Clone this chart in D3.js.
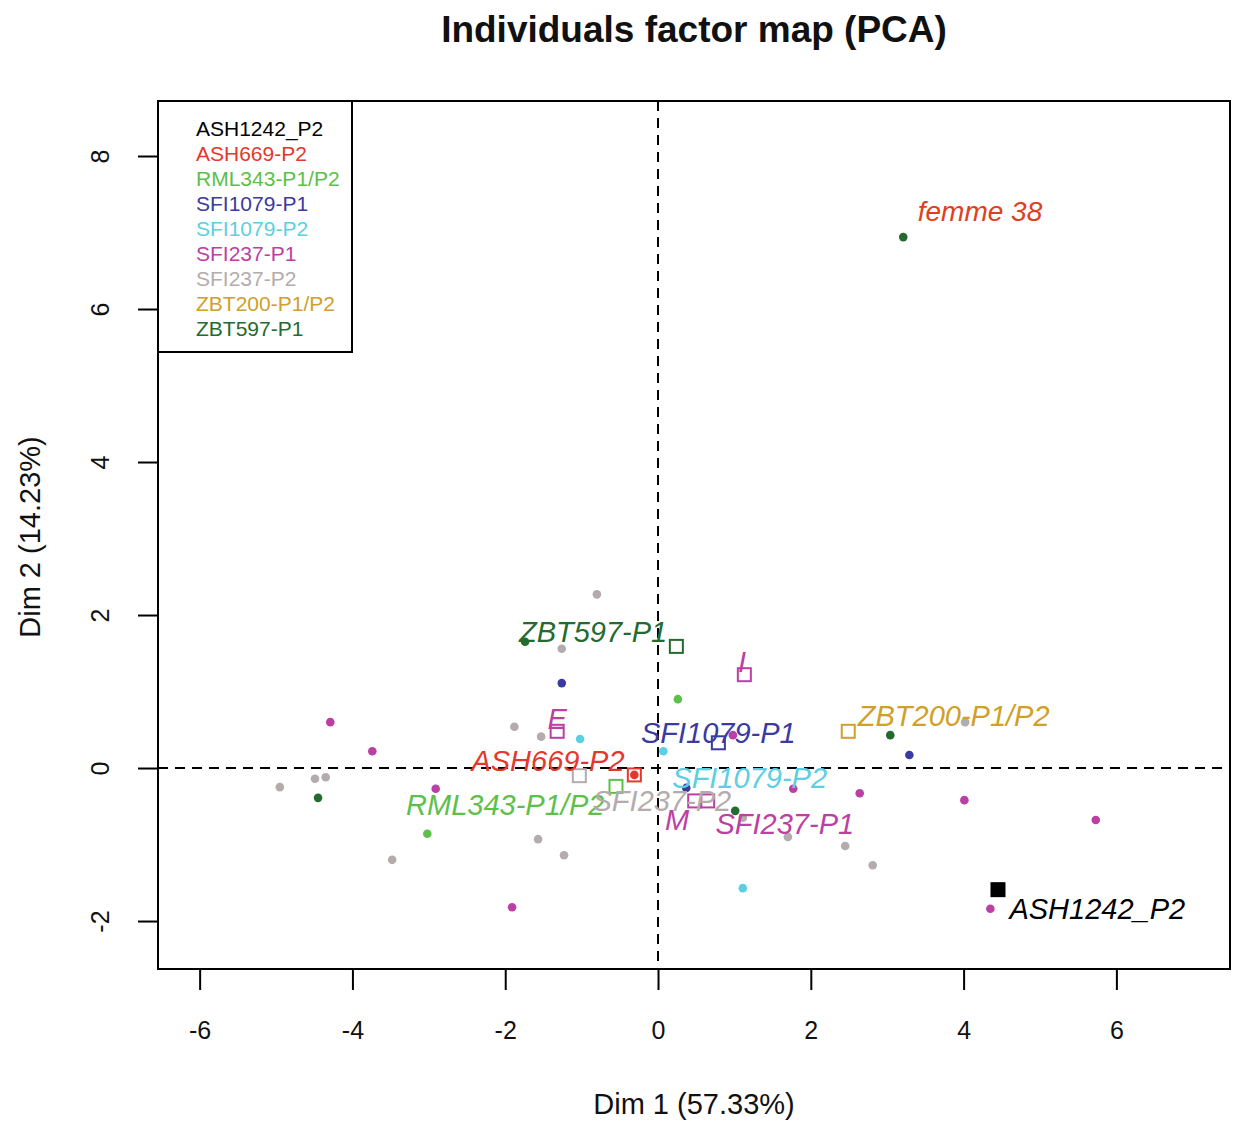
<!DOCTYPE html>
<html><head><meta charset="utf-8">
<script src="https://cdn.jsdelivr.net/npm/d3@7"></script>
<style>body{margin:0;background:#fff}svg{display:block}text{font-family:"Liberation Sans",Arial,sans-serif}</style>
</head><body>
<script>
// ---- data ----
const groups = ["ASH1242_P2","ASH669-P2","RML343-P1/P2","SFI1079-P1","SFI1079-P2","SFI237-P1","SFI237-P2","ZBT200-P1/P2","ZBT597-P1"];
const groupColors = ["#000000","#e4382c","#5cc04a","#3a3aa0","#5ccfe2","#bc40a4","#b4acac","#d0a028","#236b2f"];

// individuals (dots)
const indX = [
  -0.31,
  0.26, -3.02,
  -1.26, 0.37, 3.29,
  -1.02, 0.07, 1.11,
  -4.29, -3.74, -2.91, -1.91, 0.98, 1.77, 2.64, 4.01, 5.73, 4.35,
  -0.80, -1.26, -1.88, -1.53, -4.95, -4.49, -4.35, -3.48, -1.57, -1.23, 1.11, 1.70, 2.45, 2.81, 4.02,
  3.21, -1.74, -4.45, 3.04, 1.01
];
const indY = [
  -0.09,
  0.90, -0.86,
  1.11, -0.26, 0.17,
  0.38, 0.22, -1.57,
  0.60, 0.22, -0.27, -1.82, 0.43, -0.27, -0.33, -0.42, -0.68, -1.84,
  2.27, 1.56, 0.54, 0.41, -0.25, -0.14, -0.12, -1.20, -0.93, -1.14, -0.65, -0.90, -1.02, -1.27, 0.60,
  6.94, 1.65, -0.39, 0.43, -0.56
];
const indGroup = [
  1,
  2, 2,
  3, 3, 3,
  4, 4, 4,
  5, 5, 5, 5, 5, 5, 5, 5, 5, 5,
  6, 6, 6, 6, 6, 6, 6, 6, 6, 6, 6, 6, 6, 6, 6,
  8, 8, 8, 8, 8
];

// category squares
const sqX = [4.45, -0.31, -0.55, 0.79, -1.03, 2.49, 0.24, -1.32, 1.13, 0.48, 0.65];
const sqY = [-1.59, -0.09, -0.24, 0.33, -0.10, 0.48, 1.59, 0.48, 1.22, -0.43, -0.43];
const sqGroup = [0, 1, 2, 3, 6, 7, 8, 5, 5, 5, 5];
const sqFilled = [true, false, false, false, false, false, false, false, false, false, false];

// labels
const labText = ["ZBT597-P1","ASH669-P2","RML343-P1/P2","SFI237-P2","SFI1079-P1","SFI1079-P2","ZBT200-P1/P2","SFI237-P1","ASH1242_P2","E","I","M"];
const labX = [-0.85, -1.44, -2.00, 0.05, 0.79, 1.20, 3.87, 1.66, 5.75, -1.32, 1.10, 0.25];
const labY = [1.78, 0.10, -0.48, -0.42, 0.47, -0.13, 0.68, -0.72, -1.84, 0.65, 1.39, -0.68];
const labGroup = [8, 1, 2, 6, 3, 4, 7, 5, 0, 5, 5, 5];

const noteText = "femme 38";
const noteX = 3.40, noteY = 7.28;

const xTicks = [-6,-4,-2,0,2,4,6];
const yTicks = [-2,0,2,4,6,8];

// ---- layout ----
const W = 1234, H = 1121;
const L = 158, R = 1230, T = 101, B = 969;
const svg = d3.select("body").append("svg").attr("width", W).attr("height", H);

const x = d3.scaleLinear().domain([-6.545, 7.487]).range([L, R]);
const y = d3.scaleLinear().domain([-2.627, 8.719]).range([B, T]);
const fmt = d => String(d);

// title
svg.append("text").attr("x", 694).attr("y", 42).attr("text-anchor","middle")
  .attr("font-size", 37).attr("font-weight","bold").attr("fill","#111")
  .text("Individuals factor map (PCA)");

// axes
const xAxis = svg.append("g").attr("transform", `translate(0,${B})`)
  .call(d3.axisBottom(x).tickValues(xTicks).tickSize(21).tickPadding(31).tickFormat(fmt));
xAxis.select(".domain").remove();
xAxis.selectAll("line").attr("stroke","#000").attr("stroke-width",2);
xAxis.selectAll("text").attr("font-size",25).attr("fill","#111").attr("font-family","Liberation Sans, Arial");

const yAxis = svg.append("g").attr("transform", `translate(${L},0)`)
  .call(d3.axisLeft(y).tickValues(yTicks).tickSize(20).tickFormat(fmt));
yAxis.select(".domain").remove();
yAxis.selectAll("line").attr("stroke","#000").attr("stroke-width",2);
yAxis.selectAll("text").remove();
yAxis.selectAll(".tick").append("text")
  .attr("transform","translate(-58,0) rotate(-90)")
  .attr("text-anchor","middle").attr("dy","0.36em")
  .attr("font-size",25).attr("fill","#111")
  .text(fmt);

// axis titles
svg.append("text").attr("x", 694).attr("y", 1114).attr("text-anchor","middle")
  .attr("font-size", 29).attr("fill","#111").text("Dim 1 (57.33%)");
svg.append("text").attr("transform","translate(40,537) rotate(-90)").attr("text-anchor","middle")
  .attr("font-size", 29).attr("fill","#111").text("Dim 2 (14.23%)");

// dashed zero lines
svg.append("line").attr("x1", x(0)).attr("x2", x(0)).attr("y1", T).attr("y2", B)
  .attr("stroke","#000").attr("stroke-width",2).attr("stroke-dasharray","10,7");
svg.append("line").attr("x1", L).attr("x2", R).attr("y1", y(0)).attr("y2", y(0))
  .attr("stroke","#000").attr("stroke-width",2).attr("stroke-dasharray","10,7");

// individuals
svg.append("g").selectAll("circle").data(indX).join("circle")
  .attr("cx", (d,i) => x(d)).attr("cy", (d,i) => y(indY[i])).attr("r", 4.3)
  .attr("fill", (d,i) => groupColors[indGroup[i]]);

// squares
const s = 13;
svg.append("g").selectAll("rect").data(sqX).join("rect")
  .attr("x", (d,i) => x(d) - s/2).attr("y", (d,i) => y(sqY[i]) - s/2)
  .attr("width", s).attr("height", s)
  .attr("fill", (d,i) => sqFilled[i] ? groupColors[sqGroup[i]] : "none")
  .attr("stroke", (d,i) => groupColors[sqGroup[i]]).attr("stroke-width", 2);

// labels
svg.append("g").selectAll("text").data(labText).join("text")
  .attr("x", (d,i) => x(labX[i])).attr("y", (d,i) => y(labY[i]))
  .attr("text-anchor","middle").attr("dy","0.36em")
  .attr("font-size", 29).attr("font-style","italic")
  .attr("fill", (d,i) => groupColors[labGroup[i]])
  .text(d => d);

svg.append("text").attr("x", x(noteX)).attr("y", y(noteY)).attr("dy","0.36em")
  .attr("font-size", 28).attr("font-style","italic").attr("font-family","'Open Sans', sans-serif")
  .attr("fill","#e0401c").text(noteText);

// plot box
svg.append("rect").attr("x", L).attr("y", T).attr("width", R-L).attr("height", B-T)
  .attr("fill","none").attr("stroke","#000").attr("stroke-width",2);

// legend
const lg = svg.append("g");
lg.append("rect").attr("x", L).attr("y", T).attr("width", 194).attr("height", 251)
  .attr("fill","#fff").attr("stroke","#000").attr("stroke-width",2);
lg.selectAll("text.lt").data(groups).join("text").attr("class","lt")
  .attr("x", 196).attr("y", (d,i) => 128 + i*25).attr("dy","0.36em")
  .attr("font-size", 21).attr("fill", (d,i) => groupColors[i]).text(d => d);
</script>
</body></html>
